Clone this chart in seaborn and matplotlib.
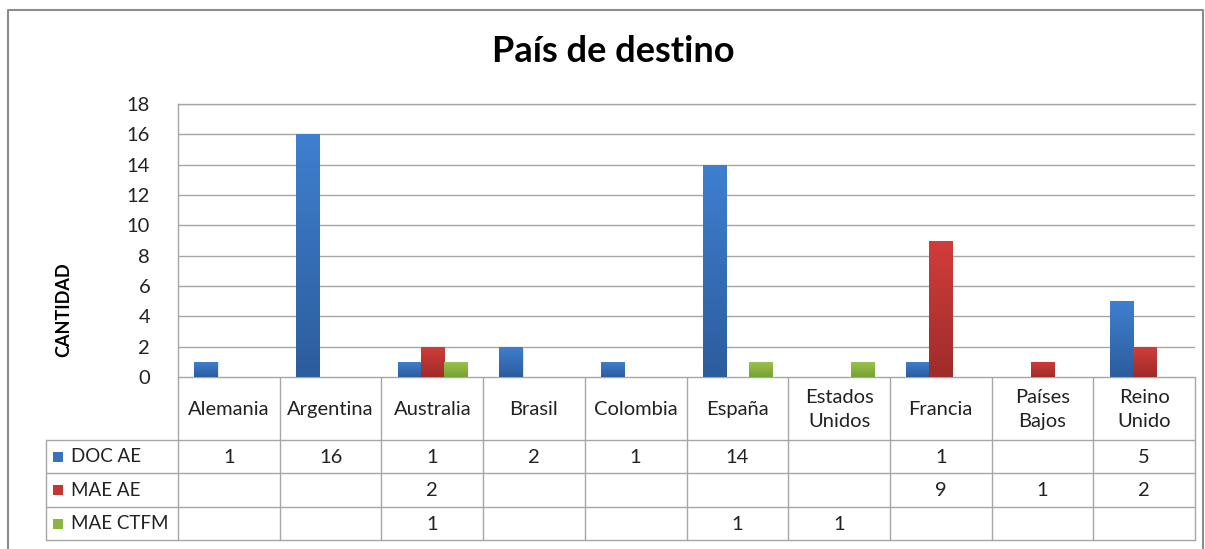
import numpy as np
import pandas as pd
import matplotlib
matplotlib.use("Agg")
import matplotlib.pyplot as plt
import matplotlib.colors as mcolors
import seaborn as sns

categories = ["Alemania", "Argentina", "Australia", "Brasil", "Colombia",
              "España", "Estados\nUnidos", "Francia", "Países\nBajos", "Reino\nUnido"]
series_names = ["DOC AE", "MAE AE", "MAE CTFM"]
doc_ae = [1, 16, 1, 2, 1, 14, None, 1, None, 5]
mae_ae = [None, None, 2, None, None, None, None, 9, 1, 2]
mae_ctfm = [None, None, 1, None, None, 1, 1, None, None, None]
yticks = [0, 2, 4, 6, 8, 10, 12, 14, 16, 18]

colors_top = ["#3f7fd0", "#d23d3b", "#9dc24c"]
colors_bot = ["#2c5d9c", "#9e2c2a", "#76a335"]
colors_mid = ["#3a72bd", "#c03836", "#8ab640"]

sns.set_theme(style="white")
plt.rcParams["font.family"] = ["Lato", "DejaVu Sans"]

W, H = 1205, 549
fig = plt.figure(figsize=(W / 100, H / 100), dpi=100)

# pixel-space overlay axes
bg = fig.add_axes([0, 0, 1, 1])
bg.set_xlim(0, W)
bg.set_ylim(H, 0)
bg.axis("off")

x0, x1 = 178, 1195
ytop, ybase = 104, 377
ax = fig.add_axes([x0 / W, 1 - ybase / H, (x1 - x0) / W, (ybase - ytop) / H])

rows = []
for s, vals in zip(series_names, [doc_ae, mae_ae, mae_ctfm]):
    for c, v in zip(categories, vals):
        rows.append({"cat": c, "serie": s, "val": np.nan if v is None else v})
df = pd.DataFrame(rows)

sns.barplot(data=df, x="cat", y="val", hue="serie", order=categories,
            hue_order=series_names, palette=colors_mid, width=0.68,
            ax=ax, legend=False, saturation=1, linewidth=0, errorbar=None)

ax.set_xlim(-0.5, len(categories) - 0.5)
ax.set_ylim(0, 18)
ax.set_yticks(yticks)
ax.set_yticklabels([str(t) for t in yticks], fontsize=14.5, color="#222222")
ax.tick_params(axis="y", length=0, pad=20)
ax.set_xticks([])
ax.set_xlabel("")
ax.set_ylabel("")
ax.yaxis.grid(True, color="#a6a6a6", linewidth=1)
ax.set_axisbelow(True)
for sp in ["right", "bottom"]:
    ax.spines[sp].set_visible(False)
for sp in ["left", "top"]:
    ax.spines[sp].set_color("#a6a6a6")
    ax.spines[sp].set_linewidth(1)

# vertical gradient on bars
grad = np.linspace(0, 1, 256).reshape(-1, 1)
for i, cont in enumerate(ax.containers):
    for p in cont.patches:
        h = p.get_height()
        if not np.isfinite(h) or h <= 0:
            continue
        bx, bw = p.get_x(), p.get_width()
        cmap = mcolors.LinearSegmentedColormap.from_list(
            "g%d" % i, [colors_bot[i], colors_top[i]])
        im = ax.imshow(grad, cmap=cmap, aspect="auto", origin="lower",
                       extent=[bx, bx + bw, 0, h], zorder=3, interpolation="bicubic")
        im.set_clip_path(p)
        ax.add_patch(plt.Rectangle((bx + bw, 0), 0.012, h, color="#cccccc",
                                   alpha=0.5, zorder=2, linewidth=0))
ax.set_xlim(-0.5, len(categories) - 0.5)
ax.set_ylim(0, 18)

# ---- data table ----
line_c = "#a6a6a6"
lw = 1
ncat = len(categories)
cw = (x1 - x0) / ncat
ys = [377, 440, 473, 507, 540]
xl = 46
bg.plot([x0, x1], [ys[0], ys[0]], color=line_c, lw=lw)
for y in ys[1:]:
    bg.plot([xl, x1], [y, y], color=line_c, lw=lw)
for k in range(ncat + 1):
    xx = x0 + k * cw
    bg.plot([xx, xx], [ys[0], ys[-1]], color=line_c, lw=lw)
bg.plot([xl, xl], [ys[1], ys[-1]], color=line_c, lw=lw)

for k, c in enumerate(categories):
    bg.text(x0 + (k + 0.5) * cw, (ys[0] + ys[1]) / 2 + 1, c, ha="center",
            va="center", fontsize=14.5, color="#222222", linespacing=1.5)

for r, (s, vals) in enumerate(zip(series_names, [doc_ae, mae_ae, mae_ctfm])):
    yc = (ys[r + 1] + ys[r + 2]) / 2
    bg.add_patch(plt.Rectangle((53, yc - 5), 10, 10, color=colors_mid[r], lw=0))
    bg.text(71, yc, s, ha="left", va="center", fontsize=13.5, color="#222222")
    for k, v in enumerate(vals):
        if v is not None:
            bg.text(x0 + (k + 0.5) * cw, yc + 1, str(v), ha="center", va="center",
                    fontsize=14.5, color="#222222")

bg.text(613, 52, "País de destino", ha="center", va="center", fontsize=26,
        fontweight="bold", color="black")
bg.text(64, 310, "CANTIDAD", ha="center", va="center", rotation=90,
        fontsize=13, fontweight="bold", color="black")

bg.plot([8, 8, 1203, 1203], [560, 10, 10, 560], color="#8c8c8c", lw=1.5)

fig.savefig("out.png", dpi=100)
